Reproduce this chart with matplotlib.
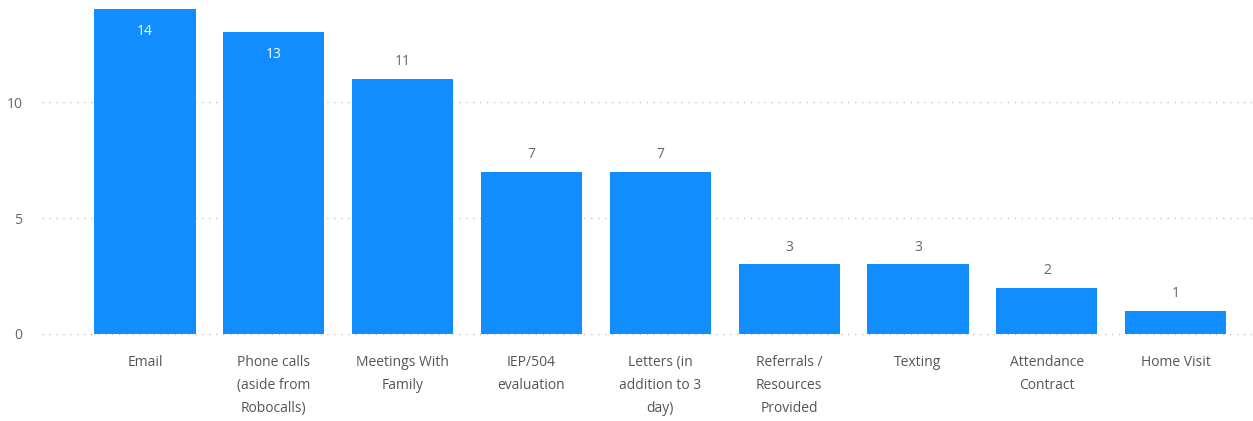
import matplotlib.pyplot as plt
import numpy as np

categorias = ['Email', 'Phone calls\n(aside from\nRobocalls)', 'Meetings With\nFamily',
              'IEP/504\nevaluation', 'Letters (in\naddition to 3\nday)',
              'Referrals /\nResources\nProvided', 'Texting', 'Attendance\nContract',
              'Home Visit']
valores = [14, 13, 11, 7, 7, 3, 3, 2, 1]
y_ticks = [0, 5, 10]

AZUL = '#118DFF'
GRIS = '#666666'

plt.rcParams['font.family'] = ['Open Sans', 'DejaVu Sans']

fig = plt.figure(figsize=(12.53, 4.21), dpi=100)
ax = fig.add_axes([0.0335, 0.2067, 0.9665, 0.7933])

x = np.arange(len(valores))
ax.bar(x, valores, width=0.785, color=AZUL, zorder=2)

# etiquetas de valor: dentro de la barra si no caben arriba
ymax = 14.4
for xi, v in zip(x, valores):
    if v + 1.5 > ymax:
        ax.annotate(str(v), (xi, v), xytext=(0, -22), textcoords='offset pixels',
                    ha='center', va='center', color='white', fontsize=10)
    else:
        ax.annotate(str(v), (xi, v), xytext=(0, 17), textcoords='offset pixels',
                    ha='center', va='center', color=GRIS, fontsize=10)

ax.set_xlim(-0.8, 8.6)
ax.set_ylim(0, ymax)
ax.set_yticks(y_ticks)
ax.set_yticklabels([str(t) for t in y_ticks], color=GRIS, fontsize=10)
ax.set_xticks(x)
ax.set_xticklabels(categorias, color='#555555', fontsize=10, linespacing=1.75, va='top')
ax.tick_params(axis='both', length=0)
ax.tick_params(axis='x', pad=15)
ax.tick_params(axis='y', pad=14)
ax.yaxis.grid(True, color='#c8c8c8', linestyle=(0, (1, 4)), linewidth=1, zorder=0)
for g in ax.get_ygridlines():
    g.set_clip_on(False)
for s in ax.spines.values():
    s.set_visible(False)

fig.savefig('out.png', dpi=100)
